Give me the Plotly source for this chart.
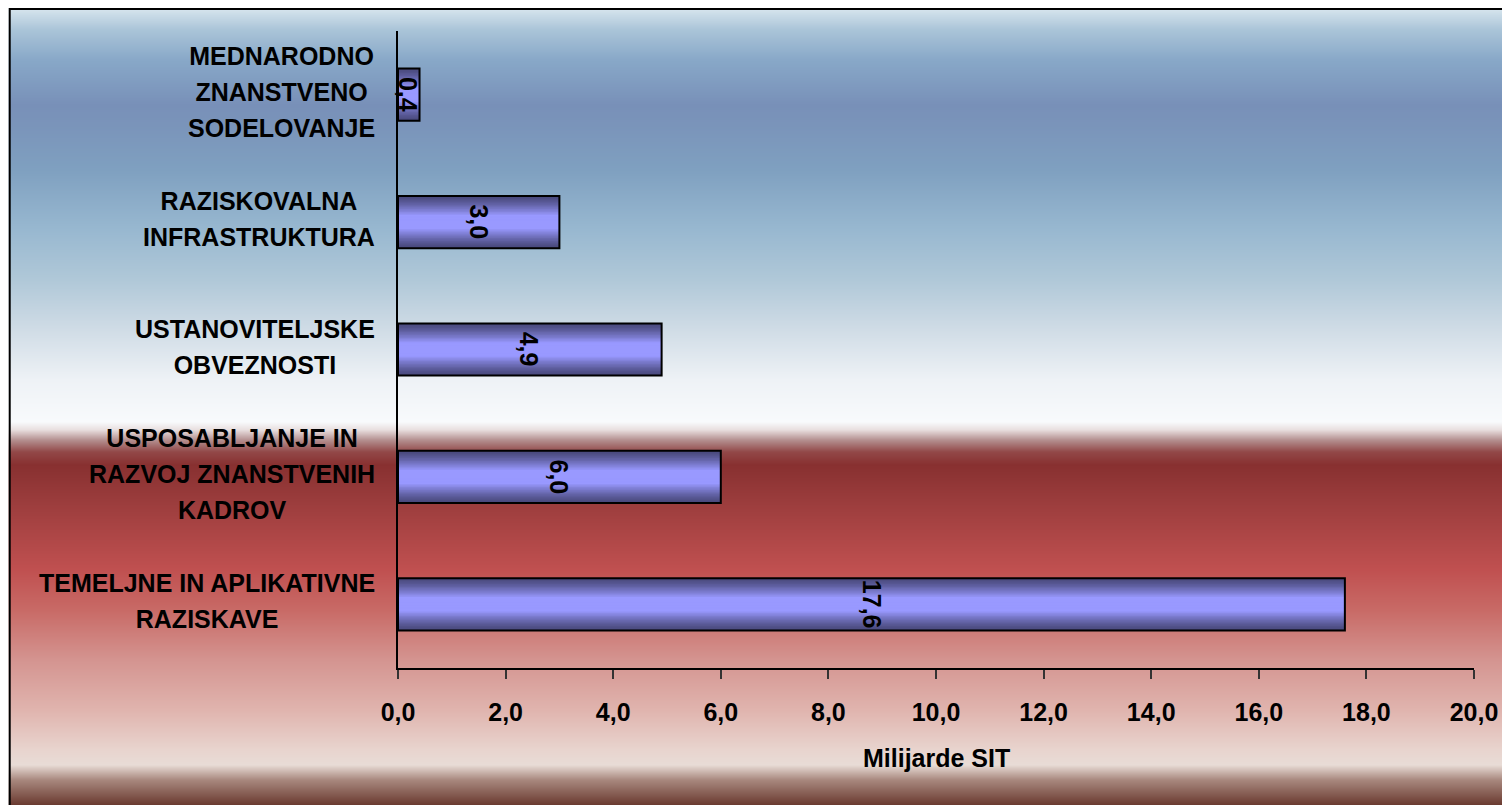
import base64, struct, zlib, math
import plotly.graph_objects as go

# ---------------- data ----------------
categories = [
    "MEDNARODNO\nZNANSTVENO\nSODELOVANJE",
    "RAZISKOVALNA\nINFRASTRUKTURA",
    "USTANOVITELJSKE\nOBVEZNOSTI",
    "USPOSABLJANJE IN\nRAZVOJ ZNANSTVENIH\nKADROV",
    "TEMELJNE IN APLIKATIVNE\nRAZISKAVE",
]
values = [0.4, 3.0, 4.9, 6.0, 17.6]
value_labels = ["0,4", "3,0", "4,9", "6,0", "17,6"]
x_title = "Milijarde SIT"

# ---------------- geometry (page pixels; body has an 8px margin) ----------------
OFF = 8
W, H = 1510 - OFF, 805 - OFF
X0, X1, Y0, Y1 = 398, 1476, 31, 668          # plot area in page pixels
ML, MR, MT, MB = X0 - OFF, W - (X1 - OFF), Y0 - OFF, H - (Y1 - OFF)
PW, PH = X1 - X0, Y1 - Y0
FONT = "Liberation Sans, Arial, sans-serif"
FS = 25

def px_x(p):  # page pixel -> paper x
    return (p - X0) / PW

def px_y(p):  # page pixel (from top) -> paper y
    return 1 - (p - Y0) / PH

# ---------------- background gradient image ----------------
stops = [
    (8, (216, 230, 238)), (30, (170, 196, 216)), (60, (136, 168, 200)),
    (105, (120, 144, 184)), (125, (122, 148, 186)), (170, (127, 160, 192)),
    (230, (152, 184, 208)), (280, (176, 200, 216)), (330, (208, 220, 230)),
    (380, (238, 242, 246)), (422, (248, 250, 252)), (430, (232, 222, 222)),
    (440, (180, 144, 144)), (452, (146, 72, 72)), (465, (136, 48, 48)),
    (500, (154, 60, 60)), (570, (192, 80, 80)), (610, (200, 106, 102)),
    (660, (212, 148, 144)), (710, (224, 180, 174)), (750, (232, 212, 206)),
    (765, (232, 220, 214)), (780, (168, 136, 126)), (805, (106, 58, 48)),
]

def color_at(yy):
    if yy <= stops[0][0]:
        return stops[0][1]
    for (y0, c0), (y1, c1) in zip(stops, stops[1:]):
        if y0 <= yy <= y1:
            t = (yy - y0) / (y1 - y0)
            return tuple(int(round(a + (b - a) * t)) for a, b in zip(c0, c1))
    return stops[-1][1]

def make_png(rows):
    raw = b"".join(b"\x00" + bytes(c) for c in rows)
    def chunk(tag, data):
        return (struct.pack(">I", len(data)) + tag + data +
                struct.pack(">I", zlib.crc32(tag + data) & 0xffffffff))
    png = b"\x89PNG\r\n\x1a\n"
    png += chunk(b"IHDR", struct.pack(">IIBBBBB", 1, len(rows), 8, 2, 0, 0, 0))
    png += chunk(b"IDAT", zlib.compress(raw, 9))
    png += chunk(b"IEND", b"")
    return "data:image/png;base64," + base64.b64encode(png).decode()

bg_rows = [color_at(y + 0.5) for y in range(OFF, 805)]
bg_src = make_png(bg_rows)

# ---------------- figure ----------------
fig = go.Figure()

BAR_W = 0.41
N = 18
dark, light = (72, 72, 122), (153, 153, 255)
for k in range(N):
    t = (k + 0.5) / N
    g = min(1.0, t / 0.75) ** 1.3
    col = tuple(int(round(d + (l - d) * g)) for d, l in zip(dark, light))
    fig.add_trace(go.Bar(
        y=categories, x=values, orientation="h",
        width=BAR_W * (1 - k / N),
        marker=dict(color="rgb(%d,%d,%d)" % col, line=dict(width=0)),
        hoverinfo="skip", showlegend=False,
    ))
fig.add_trace(go.Bar(
    y=categories, x=values, orientation="h", width=BAR_W,
    marker=dict(color="rgba(0,0,0,0)", line=dict(width=2, color="black")),
    hoverinfo="skip", showlegend=False,
))

LINE_H = 36  # label line spacing in px
annotations = []
for cat, v, lab in zip(categories, values, value_labels):
    annotations.append(dict(
        x=v / 2, y=cat, xref="x", yref="y", text="<b>" + lab + "</b>",
        showarrow=False, textangle=90,
        font=dict(family=FONT, size=FS, color="black"),
        xanchor="center", yanchor="middle",
    ))
    body = "<br>".join(
        "<span style='font-size:%dpx'><b>%s</b></span>" % (FS, ln)
        for ln in cat.split("\n"))
    annotations.append(dict(
        x=px_x(377), y=cat, xref="paper", yref="y", yshift=3,
        text=body, showarrow=False,
        align="center", xanchor="right", yanchor="middle",
        font=dict(family=FONT, size=LINE_H / 1.3, color="black"),
    ))
annotations.append(dict(
    x=0.5, y=px_y(758), xref="paper", yref="paper", text="<b>" + x_title + "</b>",
    showarrow=False, xanchor="center", yanchor="middle",
    font=dict(family=FONT, size=FS, color="black"),
))

fig.update_layout(
    width=W, height=H,
    margin=dict(l=ML, r=MR, t=MT, b=MB, pad=0),
    paper_bgcolor="white", plot_bgcolor="rgba(0,0,0,0)",
    barmode="overlay", separators=",.",
    font=dict(family=FONT, size=FS, color="black"),
    annotations=annotations,
    images=[dict(
        source=bg_src, xref="paper", yref="paper",
        x=px_x(OFF), y=px_y(OFF), sizex=(1520 - OFF) / PW,
        sizey=(805 - OFF) / PH, sizing="stretch", layer="below",
        xanchor="left", yanchor="top",
    )],
    shapes=[dict(
        type="rect", xref="paper", yref="paper",
        x0=px_x(OFF + 1), x1=px_x(1530), y0=px_y(830), y1=px_y(OFF + 1),
        line=dict(color="black", width=2), fillcolor="rgba(0,0,0,0)", layer="above",
    )],
)
fig.update_xaxes(
    range=[0, 20], dtick=2, tick0=0, tickformat=".1f",
    showline=True, linecolor="black", linewidth=1.5,
    ticks="outside", ticklen=9, tickwidth=1.5, tickcolor="#333",
    ticklabelstandoff=12,
    showgrid=False, zeroline=False,
    tickfont=dict(family=FONT, size=FS, color="black", weight="bold"),
    fixedrange=True,
)
fig.update_yaxes(
    type="category", categoryorder="array", categoryarray=categories,
    autorange="reversed", showticklabels=False, ticks="",
    showline=True, linecolor="black", linewidth=1.5,
    showgrid=False, zeroline=False, fixedrange=True,
)

fig.write_html("out.html", config={"displayModeBar": False})
